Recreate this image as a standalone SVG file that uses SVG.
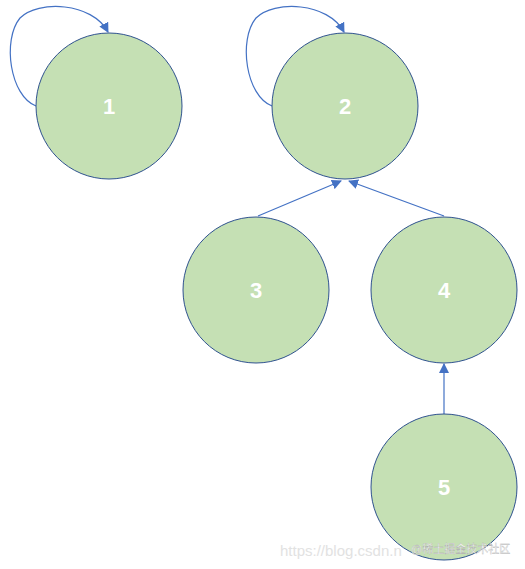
<svg xmlns="http://www.w3.org/2000/svg" width="525" height="569" viewBox="0 0 525 569">
<style>
.node circle{fill:#c5e0b4;stroke:#2f528f;stroke-width:1}
.node text{fill:#fff;font-family:"Liberation Sans",Arial,sans-serif;font-weight:bold;font-size:22px;text-anchor:middle;dominant-baseline:central}
.edge{fill:none;stroke:#4472c4;stroke-width:1.2;marker-end:url(#arr)}
.wm{font-family:"Liberation Sans","Noto Sans CJK SC",sans-serif}
</style>
<defs>
<marker id="arr" viewBox="0 0 10 10" refX="9" refY="5" markerWidth="10" markerHeight="10" orient="auto" markerUnits="userSpaceOnUse">
<path d="M0,0 L10,5 L0,10 z" fill="#4472c4"/>
</marker>
</defs>
<rect width="525" height="569" fill="#fff"/>
<g id="connectors">
<path class="edge" d="M36,106 C10,96 2,40 20,18 C38,0 92,2 108,32"/>
<path class="edge" d="M272,106 C246,96 238,40 256,18 C274,0 328,2 344,32"/>
<path class="edge" d="M258,216 L341,181"/>
<path class="edge" d="M444,216 L349,181"/>
<path class="edge" d="M444,414 L444,364"/>
</g>
<g id="node1" class="node"><circle cx="109" cy="106" r="73"/><text x="109" y="106">1</text></g>
<g id="node2" class="node"><circle cx="345" cy="106" r="73"/><text x="345" y="106">2</text></g>
<g id="node3" class="node"><circle cx="256" cy="290" r="73"/><text x="256" y="290">3</text></g>
<g id="node4" class="node"><circle cx="444" cy="290" r="73"/><text x="444" y="290">4</text></g>
<g id="node5" class="node"><circle cx="444" cy="487" r="73"/><text x="444" y="487">5</text></g>
<text class="wm" x="280" y="556" font-size="15" fill="#e2e2e2">https://blog.csdn.n</text>
<text class="wm" x="411" y="553" font-size="11" fill="#ffffff" stroke="#aaa" stroke-width="0.3">@稀土掘金技术社区</text>
</svg>
